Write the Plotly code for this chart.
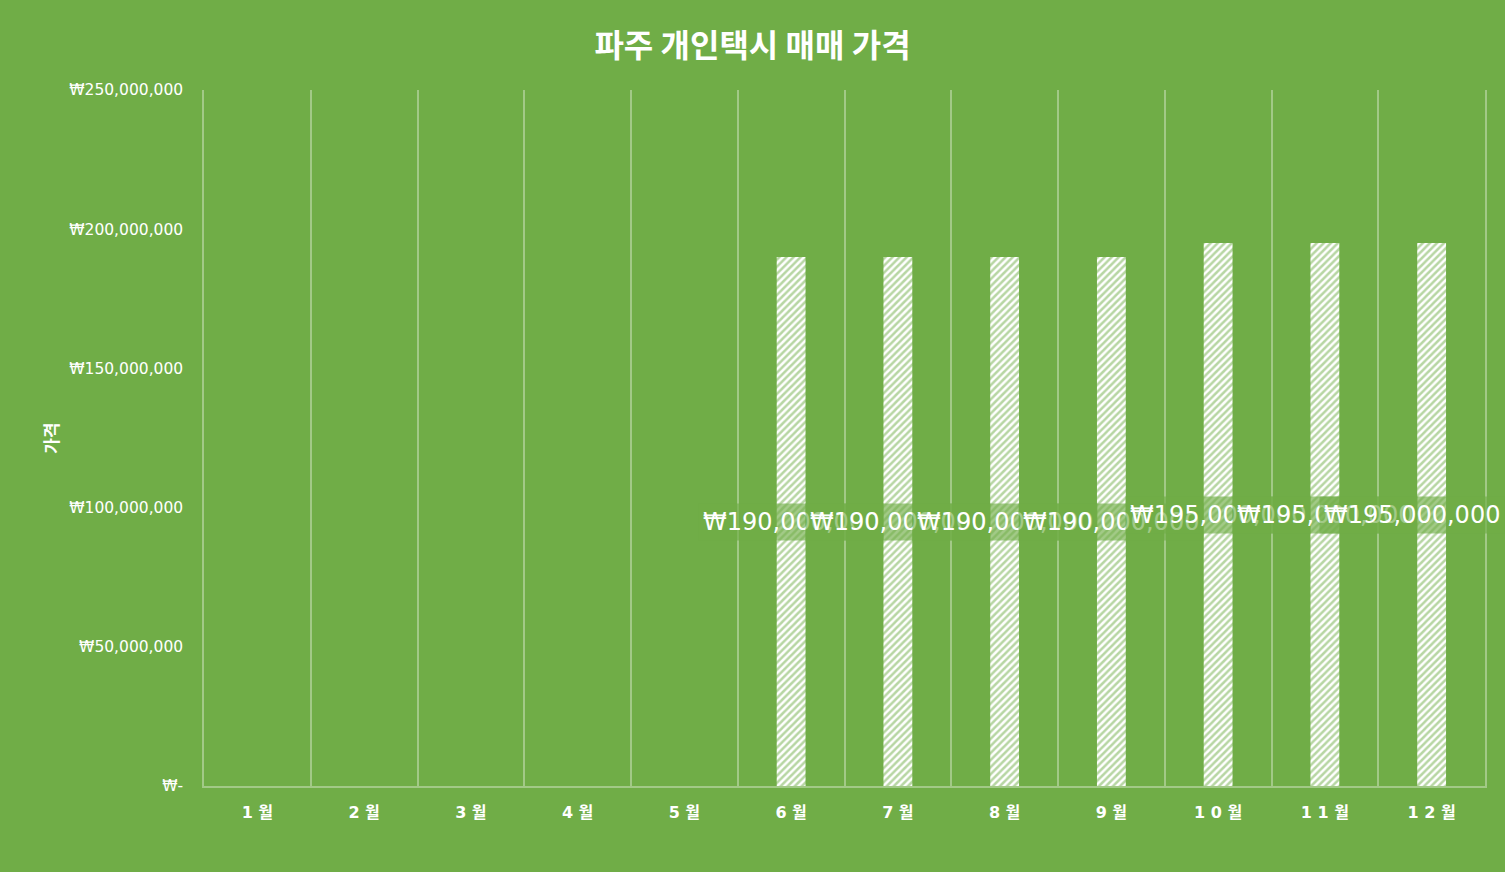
import plotly.graph_objects as go

months = ["1월", "2월", "3월", "4월", "5월", "6월", "7월", "8월", "9월", "10월", "11월", "12월"]
month_labels = ["1 월", "2 월", "3 월", "4 월", "5 월", "6 월", "7 월", "8 월", "9 월", "1 0 월", "1 1 월", "1 2 월"]
prices = [None, None, None, None, None, 190000000, 190000000, 190000000, 190000000,
          195000000, 195000000, 195000000]
y_ticks = [0, 50000000, 100000000, 150000000, 200000000, 250000000]
y_tick_labels = ["₩-", "₩50,000,000", "₩100,000,000", "₩150,000,000", "₩200,000,000", "₩250,000,000"]

GREEN = "#70AD47"
LINE = "rgba(255,255,255,0.35)"
KR = "Noto Sans CJK KR"
NUM = "DejaVu Sans, Noto Sans CJK KR"

fig = go.Figure()
fig.add_trace(go.Bar(
    x=months, y=prices, width=0.27,
    marker=dict(color="white", line=dict(width=0),
                pattern=dict(shape="/", bgcolor="white", fgcolor=GREEN, size=5, solidity=0.5)),
    hoverinfo="x+y",
))

# data labels sit in the middle of each bar, later ones cover earlier ones
for i, (m, p) in enumerate(zip(months, prices)):
    if p is None:
        continue
    fig.add_annotation(
        x=m, y=p / 2, xref="x", yref="y",
        text="₩{:,}".format(p), showarrow=False,
        font=dict(family=NUM, size=24, color="white"),
        bgcolor="rgba(112,173,71,0.65)", borderpad=4,
        xshift=-20 if i == len(months) - 1 else 0,  # keep last label inside the chart
    )

fig.update_layout(
    width=1505, height=872,
    paper_bgcolor=GREEN, plot_bgcolor=GREEN,
    margin=dict(l=204, r=20, t=90, b=86),
    showlegend=False,
    title=dict(text="파주 개인택시 매매 가격", x=0.5, xanchor="center", y=0.948, yanchor="middle",
               font=dict(family=KR, size=32, color="white", weight="bold")),
    font=dict(family=KR, color="white"),
)
fig.update_xaxes(
    tickvals=months, ticktext=month_labels, tickson="boundaries",
    showgrid=True, gridcolor=LINE, gridwidth=1.5,
    showline=True, linecolor=LINE, linewidth=1.5,
    ticks="", ticklabelstandoff=11,
    tickfont=dict(family=NUM, size=16, color="white", weight="bold"),
    range=[-0.5, 11.5], zeroline=False,
)
fig.update_yaxes(
    range=[0, 250000000], tickvals=y_ticks, ticktext=y_tick_labels,
    showgrid=False, zeroline=False,
    showline=True, mirror=True, linecolor=LINE, linewidth=1.5, ticks="",
    ticklabelstandoff=16,
    tickfont=dict(family=NUM, size=15.5, color="white"),
    title=dict(text="가격", standoff=6, font=dict(family=KR, size=17, color="white", weight="bold")),
)

fig.write_html("out.html", config={"displayModeBar": False},
               post_script="document.body.style.margin='0';")
